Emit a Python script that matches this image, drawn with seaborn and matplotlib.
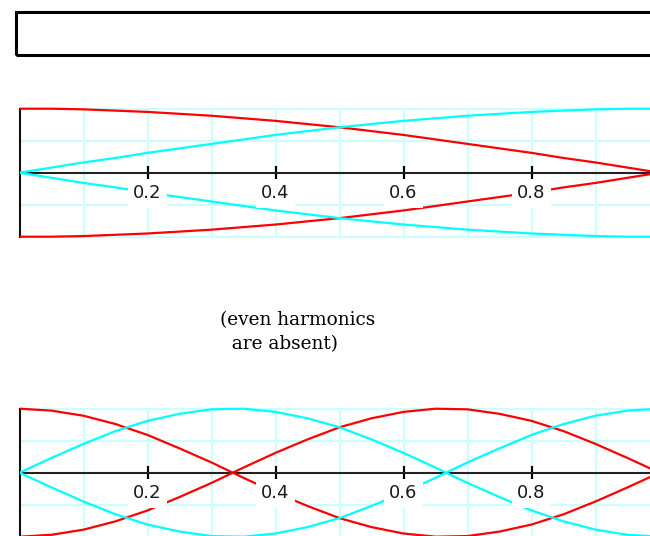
import matplotlib
matplotlib.use("Agg")
import matplotlib.pyplot as plt
import seaborn as sns
from matplotlib.patches import Rectangle

# positions along the tube (0 = closed end, 1 = open end)
x_pos = [0.00, 0.05, 0.10, 0.15, 0.20, 0.25, 0.30, 0.35, 0.40, 0.45, 0.50,
         0.55, 0.60, 0.65, 0.70, 0.75, 0.80, 0.85, 0.90, 0.95, 1.00]

# fundamental: red / cyan envelopes
fund_red = [1.00, 1.00, 0.99, 0.97, 0.95, 0.92, 0.89, 0.85, 0.81, 0.76, 0.71,
            0.65, 0.59, 0.52, 0.45, 0.38, 0.31, 0.23, 0.16, 0.08, 0.00]
fund_cyan = [0.00, 0.08, 0.16, 0.23, 0.31, 0.38, 0.45, 0.52, 0.59, 0.65, 0.71,
             0.76, 0.81, 0.85, 0.89, 0.92, 0.95, 0.97, 0.99, 1.00, 1.00]

# third harmonic
third_red = [1.00, 0.97, 0.89, 0.76, 0.59, 0.38, 0.16, -0.08, -0.31, -0.52, -0.71,
             -0.85, -0.95, -1.00, -0.99, -0.92, -0.81, -0.65, -0.45, -0.23, 0.00]
third_cyan = [0.00, 0.23, 0.45, 0.65, 0.81, 0.92, 0.99, 1.00, 0.95, 0.85, 0.71,
              0.52, 0.31, 0.08, -0.16, -0.38, -0.59, -0.76, -0.89, -0.97, -1.00]

tick_vals = [0.2, 0.4, 0.6, 0.8]
tick_labels = ["0.2", "0.4", "0.6", "0.8"]
grid_x = [0.1, 0.2, 0.3, 0.4, 0.5, 0.6, 0.7, 0.8, 0.9, 1.0]
grid_y = [-1.0, -0.5, 0.5, 1.0]

sns.set_style("white")
plt.rcParams["font.family"] = ["DejaVu Sans"]

W, H = 650, 536
fig = plt.figure(figsize=(W / 100, H / 100), dpi=100)

RED = "#ff0000"
CYAN = "#00ffff"
GRID = "#ccffff"

x0_px, scale_px = 19.5, 640.0
amp_px = 64.0
ylim = 1.04


def make_panel(zero_px, red_vals, cyan_vals):
    left = x0_px / W
    width = scale_px / W
    top_px = zero_px - ylim * amp_px
    bot_px = zero_px + ylim * amp_px
    ax = fig.add_axes([left, 1 - bot_px / H, width, (bot_px - top_px) / H])
    ax.set_xlim(0, 1)
    ax.set_ylim(-ylim, ylim)
    ax.patch.set_alpha(0)

    ax.vlines(grid_x, -1, 1, color=GRID, lw=1.5, zorder=0.5)
    ax.hlines(grid_y, 0, 1, color=GRID, lw=1.5, zorder=0.5)

    for vals, col in [(red_vals, RED), (cyan_vals, CYAN)]:
        neg = [-v for v in vals]
        sns.lineplot(x=x_pos, y=vals, color=col, lw=1.6, ax=ax,
                     sort=False, estimator=None, zorder=3)
        sns.lineplot(x=x_pos, y=neg, color=col, lw=1.6, ax=ax,
                     sort=False, estimator=None, zorder=3)

    for s in ["top", "right"]:
        ax.spines[s].set_visible(False)
    ax.spines["bottom"].set_position(("data", 0))
    ax.spines["bottom"].set_color("#222222")
    ax.spines["bottom"].set_linewidth(1.5)
    ax.spines["left"].set_bounds(-1, 1)
    ax.spines["left"].set_color("#111111")
    ax.spines["left"].set_linewidth(1.5)
    ax.set_yticks([])
    ax.set_xticks(tick_vals)
    ax.tick_params(axis="x", direction="inout", length=9.5, width=1.6,
                   color="black", labelbottom=False, bottom=True)
    for t, lab in zip(tick_vals, tick_labels):
        ax.text(t, -0.32, lab, ha="center", va="center", fontsize=13,
                color="#1a1a1a", zorder=5,
                bbox=dict(boxstyle="square,pad=0.3", fc="white", ec="none"))
    ax.set_xlabel("")
    ax.set_ylabel("")
    return ax


make_panel(172.7, fund_red, fund_cyan)
make_panel(472.7, third_red, third_cyan)

# empty title box at the top
fig.patches.append(Rectangle((15.5 / W, 1 - 54.5 / H), 700 / W, 43 / H,
                             transform=fig.transFigure, fill=False,
                             ec="black", lw=2.2))

fig.text(220 / W, 1 - 311 / H, "(even harmonics\n  are absent)",
         family=["DejaVu Serif"], fontsize=13.3, ha="left", va="top",
         linespacing=1.45, color="black")

fig.savefig("out.png", dpi=100)
